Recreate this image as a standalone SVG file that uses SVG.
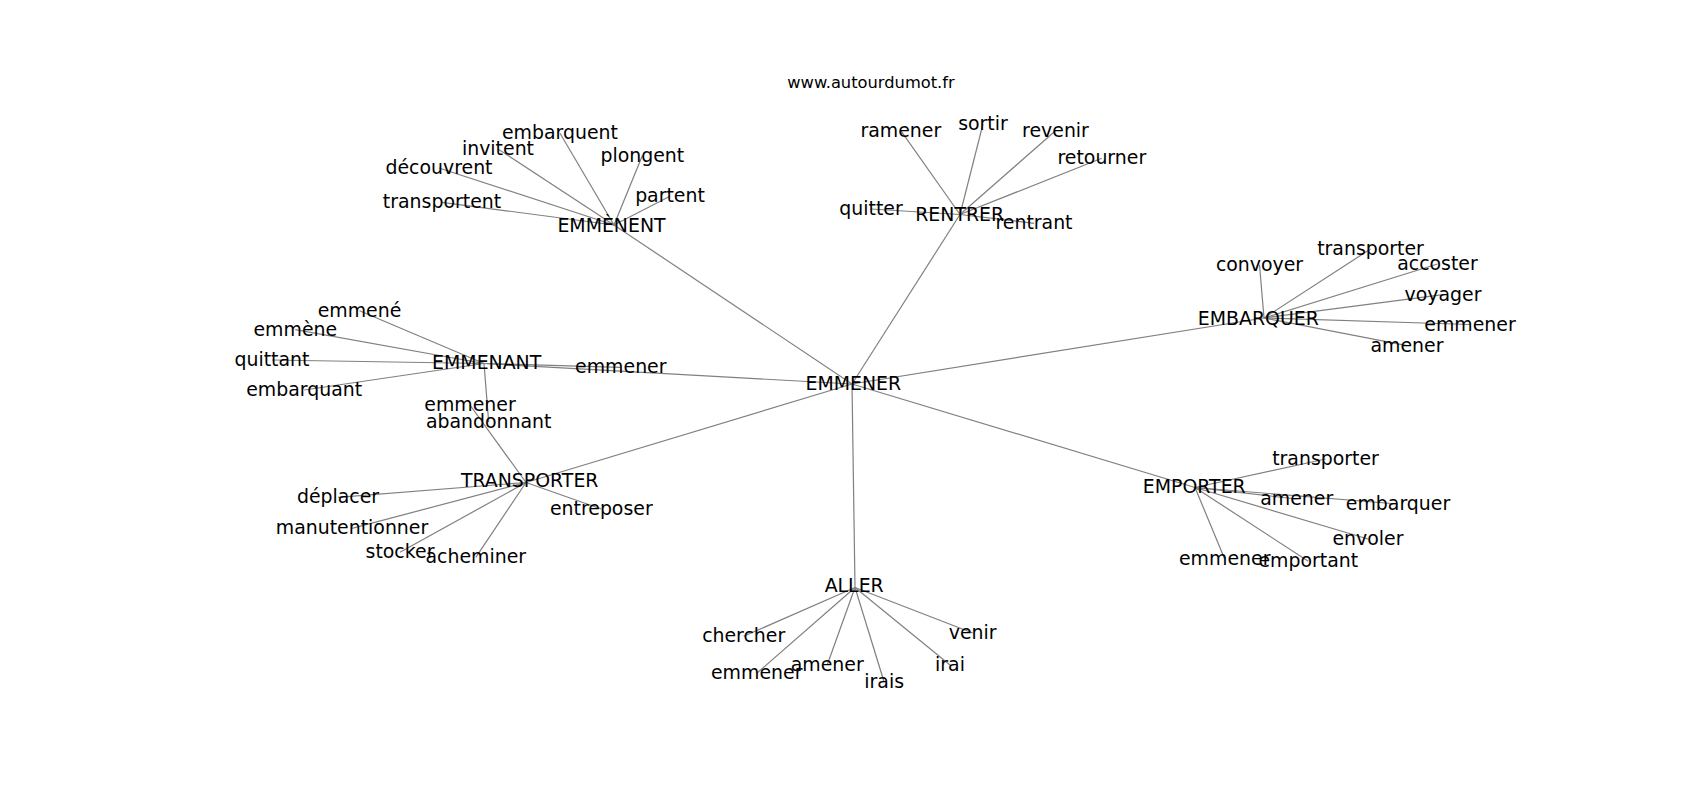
<svg xmlns="http://www.w3.org/2000/svg" width="1700" height="800" viewBox="0 0 1700 800">
<style>
.bg{fill:#ffffff}
.e line{stroke:#808080;stroke-width:1.2;fill:none}
text{font-family:"DejaVu Sans","Noto Sans",sans-serif;fill:#000000;text-anchor:middle}
.n text{font-size:18.9px}
.t{font-size:16.3px}
</style>
<rect class="bg" x="0" y="0" width="1700" height="800"/>
<text class="t" x="871" y="88">www.autourdumot.fr</text>
<g id="edges" class="e">
<!-- hub edges -->
<line x1="852" y1="384" x2="614" y2="225"/>
<line x1="852" y1="384" x2="960" y2="214.5"/>
<line x1="852" y1="384" x2="1264" y2="318"/>
<line x1="852" y1="384" x2="1195" y2="487.5"/>
<line x1="852" y1="384" x2="855" y2="587.5"/>
<line x1="852" y1="384" x2="526" y2="482.5"/>
<line x1="852" y1="384" x2="484" y2="363.5"/>
<!-- EMMENENT -->
<line x1="614" y1="225" x2="442" y2="202.3"/>
<line x1="614" y1="225" x2="439" y2="168"/>
<line x1="614" y1="225" x2="498" y2="149"/>
<line x1="614" y1="225" x2="560" y2="133.3"/>
<line x1="614" y1="225" x2="642.3" y2="155.7"/>
<line x1="614" y1="225" x2="670" y2="196.3"/>
<!-- RENTRER -->
<line x1="960" y1="214.5" x2="900.8" y2="130.7"/>
<line x1="960" y1="214.5" x2="983" y2="124"/>
<line x1="960" y1="214.5" x2="1055.5" y2="130.7"/>
<line x1="960" y1="214.5" x2="1101.8" y2="158.3"/>
<line x1="960" y1="214.5" x2="871" y2="209"/>
<line x1="960" y1="214.5" x2="1034" y2="223.3"/>
<!-- EMBARQUER -->
<line x1="1264" y1="318" x2="1259.5" y2="264.7"/>
<line x1="1264" y1="318" x2="1370.5" y2="249"/>
<line x1="1264" y1="318" x2="1437.5" y2="264"/>
<line x1="1264" y1="318" x2="1443" y2="294.7"/>
<line x1="1264" y1="318" x2="1470" y2="324.5"/>
<line x1="1264" y1="318" x2="1407" y2="345.7"/>
<!-- EMMENANT -->
<line x1="484" y1="363.5" x2="359.5" y2="310.7"/>
<line x1="484" y1="363.5" x2="295.3" y2="329.7"/>
<line x1="484" y1="363.5" x2="272" y2="360"/>
<line x1="484" y1="363.5" x2="304.2" y2="390"/>
<line x1="484" y1="363.5" x2="620.8" y2="367.3"/>
<line x1="484" y1="363.5" x2="488.7" y2="422.3"/>
<!-- TRANSPORTER -->
<line x1="526" y1="482.5" x2="470" y2="405"/>
<line x1="526" y1="482.5" x2="338" y2="497.3"/>
<line x1="526" y1="482.5" x2="352" y2="528.3"/>
<line x1="526" y1="482.5" x2="400" y2="552.3"/>
<line x1="526" y1="482.5" x2="475.8" y2="557.3"/>
<line x1="526" y1="482.5" x2="601.3" y2="509"/>
<!-- EMPORTER -->
<line x1="1195" y1="487.5" x2="1325.5" y2="459"/>
<line x1="1195" y1="487.5" x2="1296.7" y2="499"/>
<line x1="1195" y1="487.5" x2="1398" y2="504"/>
<line x1="1195" y1="487.5" x2="1368" y2="539"/>
<line x1="1195" y1="487.5" x2="1224.7" y2="559"/>
<line x1="1195" y1="487.5" x2="1308.3" y2="561.3"/>
<!-- ALLER -->
<line x1="855" y1="587.5" x2="743.7" y2="636.3"/>
<line x1="855" y1="587.5" x2="756.7" y2="673.3"/>
<line x1="855" y1="587.5" x2="827.2" y2="665"/>
<line x1="855" y1="587.5" x2="884.2" y2="682.3"/>
<line x1="855" y1="587.5" x2="950" y2="665"/>
<line x1="855" y1="587.5" x2="972.7" y2="633"/>
</g>
<g id="n-EMMENER" class="n"><text x="853.3" y="390">EMMENER</text></g>
<g id="n-EMMENENT" class="n"><text x="611.5" y="231.7">EMMÈNENT</text></g>
<g id="n-RENTRER" class="n"><text x="959.7" y="220.7">RENTRER</text></g>
<g id="n-EMBARQUER" class="n"><text x="1258.3" y="325">EMBARQUER</text></g>
<g id="n-EMPORTER" class="n"><text x="1194.3" y="492.7">EMPORTER</text></g>
<g id="n-ALLER" class="n"><text x="854.2" y="592.3">ALLER</text></g>
<g id="n-TRANSPORTER" class="n"><text x="529.7" y="487.3">TRANSPORTER</text></g>
<g id="n-EMMENANT" class="n"><text x="486.7" y="369">EMMENANT</text></g>
<g id="n-transportent" class="n"><text x="442" y="208.3">transportent</text></g>
<g id="n-decouvrent" class="n"><text x="439" y="174">découvrent</text></g>
<g id="n-invitent" class="n"><text x="498" y="155">invitent</text></g>
<g id="n-embarquent" class="n"><text x="560" y="139.3">embarquent</text></g>
<g id="n-plongent" class="n"><text x="642.3" y="161.7">plongent</text></g>
<g id="n-partent" class="n"><text x="670" y="202.3">partent</text></g>
<g id="n-ramener" class="n"><text x="900.8" y="136.7">ramener</text></g>
<g id="n-sortir" class="n"><text x="983" y="130">sortir</text></g>
<g id="n-revenir" class="n"><text x="1055.5" y="136.7">revenir</text></g>
<g id="n-retourner" class="n"><text x="1101.8" y="164.3">retourner</text></g>
<g id="n-quitter" class="n"><text x="871" y="215">quitter</text></g>
<g id="n-rentrant" class="n"><text x="1034" y="229.3">rentrant</text></g>
<g id="n-convoyer" class="n"><text x="1259.5" y="270.7">convoyer</text></g>
<g id="n-transporter-1" class="n"><text x="1370.5" y="255">transporter</text></g>
<g id="n-accoster" class="n"><text x="1437.5" y="270">accoster</text></g>
<g id="n-voyager" class="n"><text x="1443" y="300.7">voyager</text></g>
<g id="n-emmener-1" class="n"><text x="1470" y="330.5">emmener</text></g>
<g id="n-amener-1" class="n"><text x="1407" y="351.7">amener</text></g>
<g id="n-emmene" class="n"><text x="359.5" y="316.7">emmené</text></g>
<g id="n-emmene2" class="n"><text x="295.3" y="335.7">emmène</text></g>
<g id="n-quittant" class="n"><text x="272" y="366">quittant</text></g>
<g id="n-embarquant" class="n"><text x="304.2" y="396">embarquant</text></g>
<g id="n-emmener-2" class="n"><text x="620.8" y="373.3">emmener</text></g>
<g id="n-abandonnant" class="n"><text x="488.7" y="428.3">abandonnant</text></g>
<g id="n-emmener-3" class="n"><text x="470" y="411">emmener</text></g>
<g id="n-deplacer" class="n"><text x="338" y="503.3">déplacer</text></g>
<g id="n-manutentionner" class="n"><text x="352" y="534.3">manutentionner</text></g>
<g id="n-stocker" class="n"><text x="400" y="558.3">stocker</text></g>
<g id="n-acheminer" class="n"><text x="475.8" y="563.3">acheminer</text></g>
<g id="n-entreposer" class="n"><text x="601.3" y="515">entreposer</text></g>
<g id="n-transporter-2" class="n"><text x="1325.5" y="465">transporter</text></g>
<g id="n-amener-2" class="n"><text x="1296.7" y="505">amener</text></g>
<g id="n-embarquer" class="n"><text x="1398" y="510">embarquer</text></g>
<g id="n-envoler" class="n"><text x="1368" y="545">envoler</text></g>
<g id="n-emmener-4" class="n"><text x="1224.7" y="565">emmener</text></g>
<g id="n-emportant" class="n"><text x="1308.3" y="567.3">emportant</text></g>
<g id="n-chercher" class="n"><text x="743.7" y="642.3">chercher</text></g>
<g id="n-emmener-5" class="n"><text x="756.7" y="679.3">emmener</text></g>
<g id="n-amener-3" class="n"><text x="827.2" y="671">amener</text></g>
<g id="n-irais" class="n"><text x="884.2" y="688.3">irais</text></g>
<g id="n-irai" class="n"><text x="950" y="671">irai</text></g>
<g id="n-venir" class="n"><text x="972.7" y="639">venir</text></g>
</svg>
